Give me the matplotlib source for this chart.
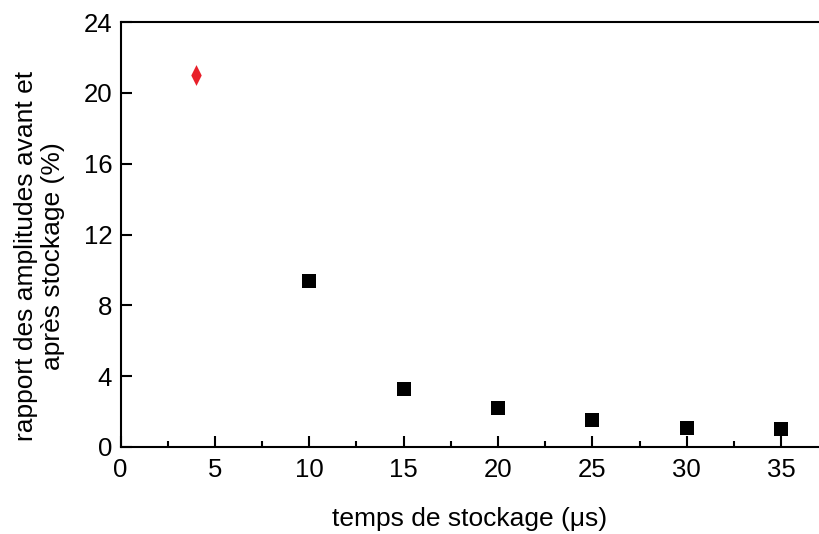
import matplotlib
matplotlib.use('Agg')
import matplotlib.pyplot as plt
from matplotlib.ticker import MultipleLocator

# data
t_ref = [4]
r_ref = [21.0]
t_store = [10, 15, 20, 25, 30, 35]
r_store = [9.4, 3.3, 2.2, 1.55, 1.1, 1.0]

plt.rcParams['font.family'] = ['Liberation Sans', 'DejaVu Sans']

fig = plt.figure(figsize=(8.19, 5.34), dpi=100)
ax = fig.add_axes([120.5 / 819, 1 - 447 / 534, 1 - 120.5 / 819, (447 - 22) / 534])

# narrow diamond like the original
diamond = [(0, 1), (0.5, 0), (0, -1), (-0.5, 0), (0, 1)]
ax.plot(t_ref, r_ref, linestyle='none', marker=diamond, markersize=15,
        color='#e8202a', markeredgewidth=0)
ax.plot(t_store, r_store, linestyle='none', marker='s', markersize=9.5,
        color='black', markeredgewidth=0)

ax.set_xlim(0, 37)
ax.set_ylim(0, 24)
ax.xaxis.set_major_locator(MultipleLocator(5))
ax.xaxis.set_minor_locator(MultipleLocator(2.5))
ax.yaxis.set_major_locator(MultipleLocator(4))

for side in ['left', 'bottom', 'top']:
    ax.spines[side].set_linewidth(1.5)
ax.spines['right'].set_visible(False)

ax.tick_params(axis='both', which='major', direction='in', length=8, width=1.5,
               labelsize=18.5, pad=6)
ax.tick_params(axis='x', which='minor', direction='in', length=4.5, width=1.5)
ax.tick_params(axis='x', which='major', pad=8)

ax.set_xlabel('temps de stockage (μs)', fontsize=19, labelpad=18)
ax.set_ylabel('rapport des amplitudes avant et\naprès stockage (%)', fontsize=19,
              linespacing=1.15)
ax.yaxis.set_label_coords(-0.08, 0.45)

fig.savefig('out.png', dpi=100)
